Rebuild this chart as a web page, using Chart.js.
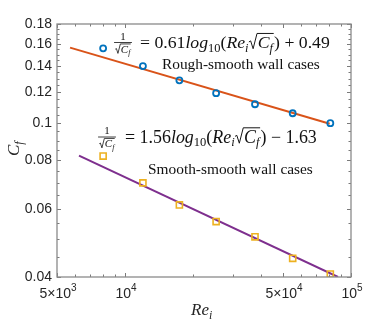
<!DOCTYPE html>
<html>
<head>
<meta charset="utf-8">
<script src="https://cdn.jsdelivr.net/npm/chart.js@4/dist/chart.umd.min.js"></script>
<style>
  html, body { margin: 0; padding: 0; background: #fff; }
</style>
</head>
<body>
<canvas id="chart" width="388" height="323"></canvas>
<script>
// measured cases
const reValues = [8000, 12000, 17400, 25300, 37600, 55200, 81000];
const cfRough = [0.1558, 0.1402, 0.1288, 0.1193, 0.1117, 0.1059, 0.0998];
const cfSmooth = [0.0821, 0.0700, 0.0614, 0.0556, 0.0508, 0.0447, 0.0407];

// fitted lines (end points)
const fitRoughRe = [5710, 80500];
const fitRoughCf = [0.1564, 0.0995];
const fitSmoothRe = [6256, 87600];
const fitSmoothCf = [0.0823, 0.0400];

// axes
const yTicks = [0.04, 0.06, 0.08, 0.1, 0.12, 0.14, 0.16, 0.18];
const yMinor = [0.045, 0.05, 0.055, 0.065, 0.07, 0.075, 0.085, 0.09, 0.095,
                0.105, 0.11, 0.115, 0.125, 0.13, 0.135, 0.145, 0.15, 0.155,
                0.165, 0.17, 0.175];
const xTicks = [5000, 10000, 50000, 100000];
const xTickLabels = [['5\u00d710', '3'], ['10', '4'], ['5\u00d710', '4'], ['10', '5']];
const xMinor = [6000, 7000, 8000, 9000, 20000, 30000, 40000, 60000, 70000, 80000, 90000];

const SERIF = '"Liberation Serif", "DejaVu Serif", serif';
const SANS = '"Liberation Sans", Arial, sans-serif';

const toPts = (xs, ys) => xs.map((x, i) => ({ x, y: ys[i] }));

// --- tiny math text helper ---
function runWidth(ctx, runs, size) {
    let w = 0;
    for (const r of runs) {
        if (r.sqrt) {
            w += size * 0.52 + runWidth(ctx, r.sqrt, size) + size * 0.06;
        } else {
            const fs = r.sub ? size * 0.7 : size;
            ctx.font = (r.it ? 'italic ' : '') + fs + 'px ' + SERIF;
            w += ctx.measureText(r.t).width;
        }
    }
    return w;
}

function drawRuns(ctx, runs, x, y, size) {
    let cx = x;
    for (const r of runs) {
        if (r.sqrt) {
            const inner = runWidth(ctx, r.sqrt, size);
            const top = y - size * 0.82;
            ctx.beginPath();
            ctx.lineWidth = Math.max(0.8, size * 0.055);
            ctx.moveTo(cx + size * 0.02, y - size * 0.34);
            ctx.lineTo(cx + size * 0.12, y - size * 0.40);
            ctx.lineTo(cx + size * 0.26, y + size * 0.04);
            ctx.lineTo(cx + size * 0.48, top);
            ctx.lineTo(cx + size * 0.52 + inner + size * 0.04, top);
            ctx.stroke();
            cx += size * 0.52;
            cx += drawRuns(ctx, r.sqrt, cx, y, size);
            cx += size * 0.06;
        } else {
            const fs = r.sub ? size * 0.7 : size;
            ctx.font = (r.it ? 'italic ' : '') + fs + 'px ' + SERIF;
            ctx.fillText(r.t, cx, y + (r.sub ? size * 0.22 : 0));
            cx += ctx.measureText(r.t).width;
        }
    }
    return cx - x;
}

function drawFraction(ctx, num, den, cx, barY, size) {
    const wn = runWidth(ctx, num, size);
    const wd = runWidth(ctx, den, size);
    const w = Math.max(wn, wd) + 2;
    ctx.beginPath();
    ctx.lineWidth = 0.8;
    ctx.moveTo(cx - w / 2, barY);
    ctx.lineTo(cx + w / 2, barY);
    ctx.stroke();
    drawRuns(ctx, num, cx - wn / 2, barY - 3, size);
    drawRuns(ctx, den, cx - wd / 2, barY + size * 0.95, size);
}

function drawFitted(ctx, runs, x, y, targetW) {
    const base = 15;
    const size = base * targetW / runWidth(ctx, runs, base);
    drawRuns(ctx, runs, x, y, size);
}

const sqrtCf = [{ sqrt: [{ t: 'C', it: 1 }, { t: 'f', it: 1, sub: 1 }] }];
const eqRough = [{ t: '= 0.61' }, { t: 'log', it: 1 }, { t: '10', sub: 1 }, { t: '(' },
    { t: 'Re', it: 1 }, { t: 'i', it: 1, sub: 1 }, sqrtCf[0], { t: ') + 0.49' }];
const eqSmooth = [{ t: '= 1.56' }, { t: 'log', it: 1 }, { t: '10', sub: 1 }, { t: '(' },
    { t: 'Re', it: 1 }, { t: 'i', it: 1, sub: 1 }, sqrtCf[0], { t: ') \u2212 1.63' }];

const frame = {
    id: 'frame',
    afterDatasetsDraw(chart) {
        const { ctx, chartArea: a, scales: { x, y } } = chart;
        ctx.save();
        ctx.strokeStyle = '#7a7a7a';
        ctx.lineWidth = 1;
        const tick = (vals, len, axis) => {
            ctx.beginPath();
            for (const v of vals) {
                if (axis === 'x') {
                    const px = Math.round(x.getPixelForValue(v)) + 0.5;
                    ctx.moveTo(px, a.bottom); ctx.lineTo(px, a.bottom - len);
                    ctx.moveTo(px, a.top); ctx.lineTo(px, a.top + len);
                } else {
                    const py = Math.round(y.getPixelForValue(v)) + 0.5;
                    ctx.moveTo(a.left, py); ctx.lineTo(a.left + len, py);
                    ctx.moveTo(a.right, py); ctx.lineTo(a.right - len, py);
                }
            }
            ctx.stroke();
        };
        tick(xTicks, 4, 'x');
        tick(xMinor, 2.5, 'x');
        tick(yTicks, 4, 'y');
        tick(yMinor, 2.5, 'y');
        ctx.lineWidth = 1.3;
        ctx.strokeStyle = '#8a8a8a';
        ctx.strokeRect(a.left, a.top, a.right - a.left, a.bottom - a.top);
        ctx.restore();
    },
    afterDraw(chart) {
        const { ctx, chartArea: a, scales: { x } } = chart;
        ctx.save();
        ctx.fillStyle = '#262626';
        ctx.textBaseline = 'alphabetic';
        // x tick labels with superscripts
        xTicks.forEach((v, i) => {
            const [b, s] = xTickLabels[i];
            ctx.font = '14px ' + SANS;
            const wb = ctx.measureText(b).width;
            ctx.font = '10px ' + SANS;
            const ws = ctx.measureText(s).width;
            const px = x.getPixelForValue(v) - (wb + ws) / 2 + 1;
            ctx.font = '14px ' + SANS;
            ctx.fillText(b, px, a.bottom + 21);
            ctx.font = '10px ' + SANS;
            ctx.fillText(s, px + wb, a.bottom + 14);
        });

        // axis titles
        ctx.fillStyle = '#262626';
        ctx.save();
        ctx.translate(19, 156);
        ctx.rotate(-Math.PI / 2);
        drawRuns(ctx, [{ t: 'C', it: 1 }, { t: 'f', it: 1, sub: 1 }], 0, 0, 17);
        ctx.restore();
        drawRuns(ctx, [{ t: 'Re', it: 1 }, { t: 'i', it: 1, sub: 1 }], 191, 315, 17);

        // annotations
        ctx.fillStyle = '#111';
        ctx.strokeStyle = '#111';
        drawFraction(ctx, [{ t: '1' }], sqrtCf, 123, 42.5, 11);
        drawFitted(ctx, eqRough, 140, 48, 190);
        drawFraction(ctx, [{ t: '1' }], sqrtCf, 107, 137, 11);
        drawFitted(ctx, eqSmooth, 125, 142.5, 192);
        drawFitted(ctx, [{ t: 'Rough-smooth wall cases' }], 162, 69, 158);
        drawFitted(ctx, [{ t: 'Smooth-smooth wall cases' }], 148, 174, 165);
        ctx.restore();
    }
};

new Chart(document.getElementById('chart').getContext('2d'), {
    type: 'scatter',
    data: {
        datasets: [
            {
                label: 'Rough-smooth',
                data: toPts(reValues, cfRough),
                borderColor: '#0072BD',
                backgroundColor: 'rgba(0,0,0,0)',
                pointStyle: 'circle',
                pointRadius: 3,
                pointBorderWidth: 1.8,
                order: 0
            },
            {
                label: 'Smooth-smooth',
                data: toPts(reValues, cfSmooth),
                borderColor: '#EDB120',
                backgroundColor: 'rgba(0,0,0,0)',
                pointStyle: 'rect',
                pointRadius: 4.3,
                pointBorderWidth: 1.6,
                order: 0
            },
            {
                label: 'Rough fit',
                type: 'line',
                data: toPts(fitRoughRe, fitRoughCf),
                borderColor: '#D95319',
                borderWidth: 2,
                pointRadius: 0,
                order: 1
            },
            {
                label: 'Smooth fit',
                type: 'line',
                data: toPts(fitSmoothRe, fitSmoothCf),
                borderColor: '#7E2F8E',
                borderWidth: 2,
                pointRadius: 0,
                order: 1
            }
        ]
    },
    options: {
        responsive: false,
        animation: false,
        devicePixelRatio: 1,
        layout: { padding: { left: 0, right: 37, top: 24, bottom: 46 } },
        plugins: { legend: { display: false }, tooltip: { enabled: false } },
        scales: {
            x: {
                type: 'logarithmic',
                min: 5000,
                max: 100000,
                grid: { display: false, drawTicks: false },
                border: { display: false },
                ticks: { display: false },
                afterFit(s) { s.height = 0; }
            },
            y: {
                type: 'logarithmic',
                min: 0.04,
                max: 0.18,
                grid: { display: false, drawTicks: false },
                border: { display: false },
                afterBuildTicks(s) { s.ticks = yTicks.map(v => ({ value: v })); },
                afterFit(s) { s.width = 57; },
                ticks: {
                    autoSkip: false,
                    padding: 5,
                    color: '#262626',
                    font: { family: 'Liberation Sans', size: 14 },
                    callback: v => String(Number(v.toFixed(3)))
                }
            }
        }
    },
    plugins: [frame]
});
</script>
</body>
</html>
